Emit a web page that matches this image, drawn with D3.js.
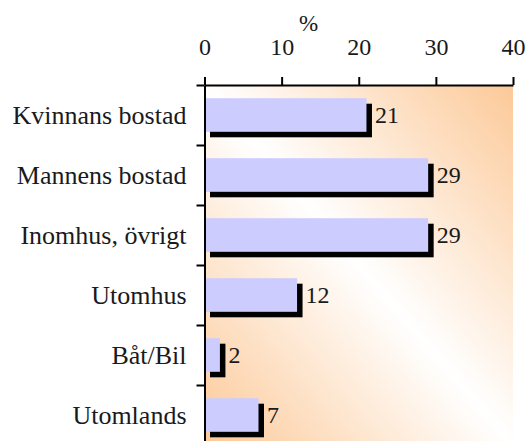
<!DOCTYPE html>
<html>
<head>
<meta charset="utf-8">
<script src="https://cdn.jsdelivr.net/npm/d3@7"></script>
<style>
  body { margin: 0; background: #fff; }
</style>
</head>
<body>
<svg id="chart" width="527" height="441"></svg>
<script>
// values (%)
const categories = ["Kvinnans bostad", "Mannens bostad", "Inomhus, övrigt", "Utomhus", "Båt/Bil", "Utomlands"]
const values = [21, 29, 29, 12, 2, 7]
const xTicks = [0, 10, 20, 30, 40]
const unitLabel = "%"

const serif = "Liberation Serif"
const ink = "#1a1a1a"

const svg = d3.select("#chart")

const marginLeft = 204.5, marginTop = 85
const plotW = 308.5, plotH = 360

const x = d3.scaleLinear().domain([0, 40]).range([0, plotW])
const y = d3.scaleBand().domain(categories).range([0, plotH])
const barH = y.bandwidth() * 0.56
const shadow = 5.5

// background gradient: peach in top-right and bottom-left, white across the middle
const defs = svg.append("defs")
const grad = defs.append("linearGradient")
    .attr("id", "bg")
    .attr("x1", 1).attr("y1", 0)
    .attr("x2", 0).attr("y2", 1)
grad.append("stop").attr("offset", 0).attr("stop-color", "#fcc998")
grad.append("stop").attr("offset", 0.5).attr("stop-color", "#ffffff")
grad.append("stop").attr("offset", 1).attr("stop-color", "#fcc998")

const g = svg.append("g").attr("transform", `translate(${marginLeft},${marginTop})`)

g.append("rect")
    .attr("x", 0).attr("y", 0)
    .attr("width", plotW).attr("height", plotH)
    .attr("fill", "url(#bg)")

// shadows first, then the bars
const rows = g.selectAll(".row")
    .data(categories.map((c, i) => ({ c: c, v: values[i] })))
    .join("g")
    .attr("class", "row")

rows.append("rect")
    .attr("x", shadow)
    .attr("y", d => y(d.c) + (y.bandwidth() - barH) / 2 + shadow)
    .attr("width", d => x(d.v))
    .attr("height", barH)
    .attr("fill", "#000")

rows.append("rect")
    .attr("x", 0)
    .attr("y", d => y(d.c) + (y.bandwidth() - barH) / 2)
    .attr("width", d => x(d.v))
    .attr("height", barH)
    .attr("fill", "#ccccff")

rows.append("text")
    .attr("x", d => x(d.v) + shadow + 3)
    .attr("y", d => y(d.c) + y.bandwidth() / 2)
    .attr("dy", "0.33em")
    .attr("font-family", serif)
    .attr("font-size", 24)
    .attr("fill", ink)
    .text(d => d.v)

// top axis
const xAxis = g.append("g")
    .call(d3.axisTop(x).tickValues(xTicks).tickSize(8).tickPadding(22).tickSizeOuter(0))
    .attr("font-family", serif)
    .attr("font-size", 24)
xAxis.selectAll("line, path").attr("stroke", "#000").attr("stroke-width", 2)
xAxis.selectAll("text").attr("fill", ink)

g.append("text")
    .attr("x", x(13.5))
    .attr("y", -54)
    .attr("text-anchor", "middle")
    .attr("font-family", serif)
    .attr("font-size", 23)
    .attr("fill", ink)
    .text(unitLabel)

// left axis: ticks at the band boundaries
const bounds = d3.scaleLinear().domain([0, categories.length]).range([0, plotH])
const yAxis = g.append("g")
    .call(d3.axisLeft(bounds).ticks(categories.length).tickSize(8).tickFormat("").tickSizeOuter(0))
yAxis.selectAll("line, path").attr("stroke", "#000").attr("stroke-width", 2)

g.selectAll(".cat")
    .data(categories)
    .join("text")
    .attr("class", "cat")
    .attr("x", -18)
    .attr("y", d => y(d) + y.bandwidth() / 2)
    .attr("dy", "0.33em")
    .attr("text-anchor", "end")
    .attr("font-family", serif)
    .attr("font-size", 26)
    .attr("fill", ink)
    .text(d => d)
</script>
</body>
</html>
